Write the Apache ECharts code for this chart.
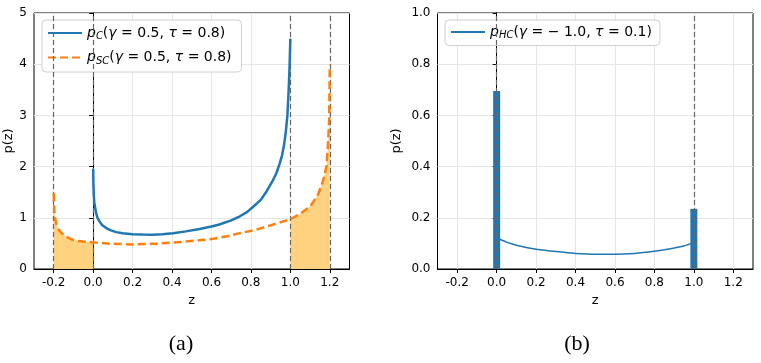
<!DOCTYPE html>
<html>
<head>
<meta charset="utf-8">
<script src="https://cdn.jsdelivr.net/npm/echarts@6/dist/echarts.min.js"></script>
<style>html,body{margin:0;padding:0;background:#fff;}#c{width:761px;height:363px;}</style>
</head>
<body>
<div id="c"></div>
<script>
// ---- data ----
const xTicks = [-0.2, 0.0, 0.2, 0.4, 0.6, 0.8, 1.0, 1.2];

// p_C (gamma=0.5, tau=0.8) on (0,1)
const pcX = [0, 0.001, 0.003, 0.006, 0.01, 0.015, 0.022, 0.032, 0.045, 0.066, 0.09, 0.117, 0.15, 0.2, 0.25, 0.3, 0.35, 0.405, 0.47, 0.54, 0.6, 0.64, 0.7, 0.744, 0.78, 0.81, 0.85, 0.88, 0.91, 0.93, 0.945, 0.958, 0.968, 0.977, 0.985, 0.991, 0.996, 1.0];
const pcY = [1.96, 1.7, 1.45, 1.3, 1.2, 1.09, 1.0, 0.93, 0.86, 0.80, 0.755, 0.72, 0.70, 0.68, 0.672, 0.67, 0.68, 0.70, 0.735, 0.78, 0.83, 0.87, 0.95, 1.03, 1.11, 1.21, 1.35, 1.52, 1.72, 1.88, 2.05, 2.22, 2.42, 2.68, 3.0, 3.45, 3.95, 4.5];

// p_SC (gamma=0.5, tau=0.8) on (-0.2,1.2)
const pscX = [-0.2, -0.199, -0.197, -0.194, -0.19, -0.185, -0.178, -0.171, -0.16, -0.137, -0.11, -0.086, -0.05, 0, 0.083, 0.2, 0.32, 0.456, 0.55, 0.61, 0.68, 0.744, 0.82, 0.88, 0.94, 1.0, 1.05, 1.10, 1.14, 1.166, 1.183, 1.192, 1.197, 1.2];
const pscY = [1.48, 1.3, 1.15, 1.03, 0.93, 0.85, 0.79, 0.75, 0.70, 0.63, 0.58, 0.55, 0.535, 0.52, 0.495, 0.48, 0.495, 0.53, 0.565, 0.59, 0.64, 0.70, 0.76, 0.83, 0.90, 0.97, 1.08, 1.22, 1.45, 1.72, 2.0, 2.5, 2.95, 3.99];

// p_HC (gamma=-1.0, tau=0.1): continuous part and point masses at 0 and 1
const hcX = [0.015, 0.05, 0.1, 0.15, 0.2, 0.3, 0.4, 0.5, 0.6, 0.7, 0.8, 0.85, 0.9, 0.95, 0.985];
const hcY = [0.116, 0.105, 0.093, 0.084, 0.077, 0.068, 0.061, 0.058, 0.058, 0.061, 0.069, 0.075, 0.082, 0.09, 0.099];
const hcMassX = [0, 1];
const hcMassY = [0.695, 0.235];

const leftBounds = [-0.2, 0.0, 1.0, 1.2];
const rightBounds = [0.0, 1.0];

// ---- helpers ----
const pairs = (xs, ys) => xs.map((x, i) => [x, ys[i]]);
const pscPairs = pairs(pscX, pscY);
const fillLeft = pscPairs.filter(p => p[0] <= 0.0);
const fillRight = pscPairs.filter(p => p[0] >= 1.0);

const BLUE = '#1f77b4', ORANGE = '#ff7f0e', FILL = '#ffd27f';
const FONT = 'DejaVu Sans';

const rich = {
  i: { fontFamily: FONT, fontStyle: 'italic', fontSize: 14, color: '#000' },
  n: { fontFamily: FONT, fontSize: 14, color: '#000' },
  s: { fontFamily: FONT, fontStyle: 'italic', fontSize: 10, color: '#000', padding: [7, 0, 0, 0] }
};
const legendNames = {
  pC: '{i|p}{s|C}{n|(}{i|γ}{n| = 0.5, }{i|τ}{n| = 0.8)}',
  pSC: '{i|p}{s|SC}{n|(}{i|γ}{n| = 0.5, }{i|τ}{n| = 0.8)}',
  pHC: '{i|p}{s|HC}{n|(}{i|γ}{n| = − 1.0, }{i|τ}{n| = 0.1)}'
};

function xAxisDef(gridIndex) {
  return {
    type: 'value', gridIndex, min: -0.3, max: 1.3,
    name: 'z', nameLocation: 'middle', nameGap: 24,
    nameTextStyle: { fontFamily: FONT, fontSize: 13, color: '#000' },
    axisLine: { show: true, onZero: false, lineStyle: { color: '#000', width: 1 } },
    axisTick: { show: true, length: 4, customValues: xTicks, lineStyle: { color: '#000' } },
    axisLabel: { customValues: xTicks, margin: 8, fontFamily: FONT, fontSize: 12, color: '#000',
      formatter: v => v.toFixed(1) },
    splitLine: { show: true, lineStyle: { color: '#e6e6e6', width: 1 } }
  };
}
function yAxisDef(gridIndex, max, interval, fmt, gap) {
  return {
    type: 'value', gridIndex, min: 0, max, interval,
    name: 'p(z)', nameLocation: 'middle', nameGap: gap,
    nameTextStyle: { fontFamily: FONT, fontSize: 13, color: '#000' },
    axisLine: { show: true, lineStyle: { color: '#000', width: 1 } },
    axisTick: { show: true, length: 4, lineStyle: { color: '#000' } },
    axisLabel: { margin: 7, fontFamily: FONT, fontSize: 12, color: '#000', formatter: fmt },
    splitLine: { show: true, lineStyle: { color: '#e6e6e6', width: 1 } }
  };
}
function boundLines(xs, xi, yi) {
  return {
    type: 'line', name: 'bounds' + xi, xAxisIndex: xi, yAxisIndex: yi, data: [], z: 10, silent: true,
    markLine: {
      silent: true, symbol: 'none', animation: false,
      label: { show: false },
      lineStyle: { type: [5, 3], color: '#666', width: 1.2 },
      data: xs.map(x => ({ xAxis: x }))
    }
  };
}

const chart = echarts.init(document.getElementById('c'), null, { renderer: 'canvas' });
chart.setOption({
  animation: false,
  backgroundColor: '#fff',
  title: [
    { text: '(a)', left: 176, top: 328, textAlign: 'center',
      textStyle: { fontFamily: 'Liberation Serif', fontSize: 22, fontWeight: 'normal', color: '#000' } },
    { text: '(b)', left: 572, top: 328, textAlign: 'center',
      textStyle: { fontFamily: 'Liberation Serif', fontSize: 22, fontWeight: 'normal', color: '#000' } }
  ],
  grid: [
    { left: 34, top: 13, width: 315.5, height: 256, show: true, borderColor: '#000', borderWidth: 1, backgroundColor: 'transparent' },
    { left: 437.5, top: 13, width: 315.5, height: 256, show: true, borderColor: '#000', borderWidth: 1, backgroundColor: 'transparent' }
  ],
  xAxis: [xAxisDef(0), xAxisDef(1)],
  yAxis: [
    yAxisDef(0, 5, 1, v => String(v), 18),
    yAxisDef(1, 1, 0.2, v => v.toFixed(1), 34)
  ],
  legend: [
    { left: 42, top: 20, orient: 'vertical', itemWidth: 34, itemHeight: 1, itemGap: 9,
      padding: [6, 10, 6, 5], backgroundColor: '#fff', borderColor: '#d0d0d0', borderWidth: 1, borderRadius: 4,
      data: ['pC', 'pSC'], formatter: n => legendNames[n], textStyle: { rich }, selectedMode: false },
    { left: 445, top: 20, orient: 'vertical', itemWidth: 34, itemHeight: 1,
      padding: [5, 8, 5, 5], backgroundColor: '#fff', borderColor: '#d0d0d0', borderWidth: 1, borderRadius: 4,
      data: ['pHC'], formatter: n => legendNames[n], textStyle: { rich }, selectedMode: false }
  ],
  series: [
    { type: 'line', name: 'fillL', xAxisIndex: 0, yAxisIndex: 0, data: fillLeft, symbol: 'none',
      lineStyle: { width: 0 }, areaStyle: { color: FILL, opacity: 1 }, z: 1 },
    { type: 'line', name: 'fillR', xAxisIndex: 0, yAxisIndex: 0, data: fillRight, symbol: 'none',
      lineStyle: { width: 0 }, areaStyle: { color: FILL, opacity: 1 }, z: 1 },
    boundLines(leftBounds, 0, 0),
    { type: 'line', name: 'pC', xAxisIndex: 0, yAxisIndex: 0, data: pairs(pcX, pcY), symbol: 'none',
      color: BLUE, lineStyle: { color: BLUE, width: 2.5, join: 'round' }, z: 5 },
    { type: 'line', name: 'pSC', xAxisIndex: 0, yAxisIndex: 0, data: pscPairs, symbol: 'none',
      color: ORANGE, lineStyle: { color: ORANGE, width: 2.5, type: [8, 4], join: 'round' }, z: 5 },
    { type: 'bar', name: 'hcMass', xAxisIndex: 1, yAxisIndex: 1, data: pairs(hcMassX, hcMassY), barWidth: 7,
      itemStyle: { color: BLUE }, z: 3 },
    { type: 'line', name: 'pHC', xAxisIndex: 1, yAxisIndex: 1, data: pairs(hcX, hcY), symbol: 'none',
      smooth: 0.2, color: BLUE, lineStyle: { color: BLUE, width: 1.5 }, z: 5 },
    boundLines(rightBounds, 1, 1)
  ]
});
</script>
</body>
</html>
